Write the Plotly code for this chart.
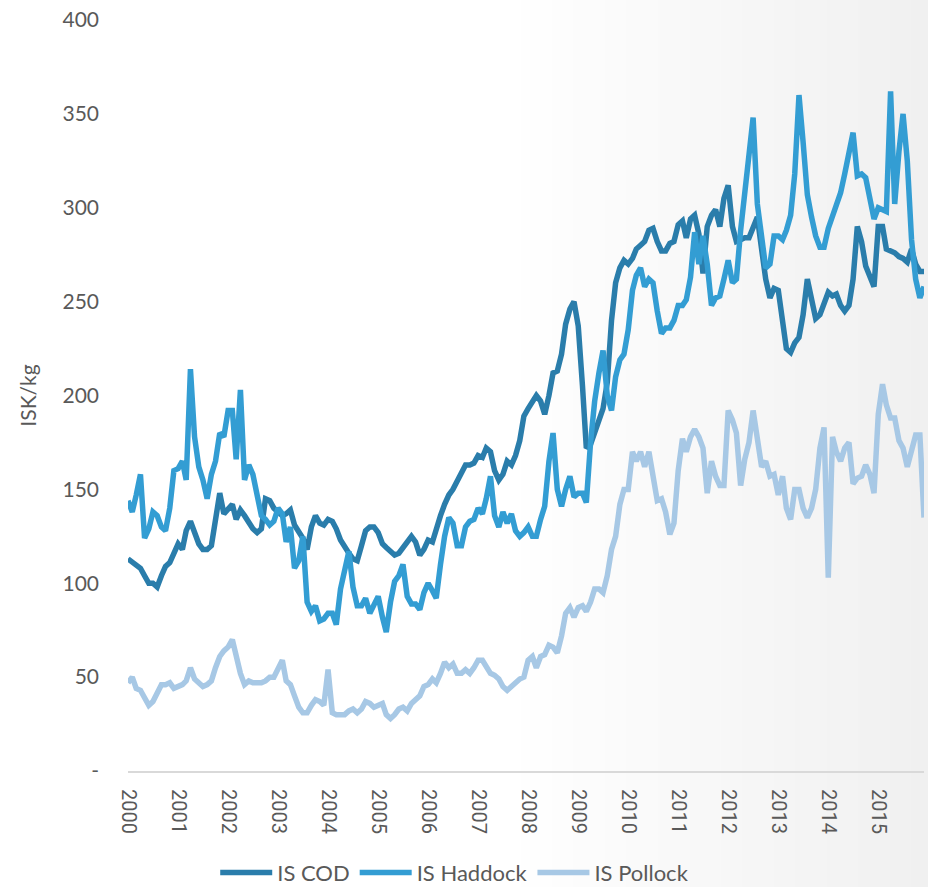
import pandas as pd
import plotly.graph_objects as go

# monthly prices, Jan 2000 - Dec 2015 (ISK/kg)
months = pd.date_range("2000-01-01", periods=192, freq="MS")

cod = [
    113, 111, 110, 108, 104, 100, 100, 98, 104, 109, 111, 116,
    121, 118, 128, 133, 126, 121, 118, 118, 120, 134, 148, 137,
    140, 142, 134, 139, 136, 132, 129, 127, 129, 145, 144, 140,
    138, 136, 137, 139, 131, 127, 124, 118, 130, 136, 132, 131,
    134, 133, 129, 123, 119, 116, 113, 112, 120, 128, 130, 130,
    127, 121, 119, 117, 115, 116, 119, 121, 125, 122, 115, 118,
    123, 122, 130, 136, 142, 147, 150, 154, 158, 163, 163, 164,
    168, 167, 172, 170, 160, 155, 158, 165, 163, 168, 176, 189,
    193, 197, 200, 197, 190, 200, 212, 213, 222, 238, 246, 250,
    237, 205, 172, 174, 180, 186, 193, 207, 240, 260, 268, 272,
    270, 273, 278, 280, 282, 288, 289, 282, 277, 277, 281, 282,
    291, 293, 284, 294, 296, 286, 265, 290, 296, 299, 290, 305,
    312, 290, 282, 283, 284, 284, 290, 295, 278, 262, 252, 257,
    256, 240, 225, 223, 228, 231, 243, 262, 250, 241, 243, 250,
    255, 253, 254, 248, 245, 248, 262, 290, 282, 269, 264, 258,
    290, 290, 278, 277, 276, 274, 273, 271, 278, 270, 266, 266,
]

haddock = [
    144, 138, 147, 158, 124, 129, 138, 136, 130, 128, 140, 160,
    161, 165, 155, 214, 178, 162, 155, 145, 158, 165, 180, 178,
    192, 192, 166, 203, 155, 163, 158, 148, 136, 134, 131, 133,
    140, 137, 122, 130, 108, 112, 125, 90, 85, 88, 80, 81,
    84, 84, 78, 97, 108, 117, 98, 88, 88, 92, 84, 88,
    93, 82, 74, 90, 101, 104, 110, 93, 89, 89, 86, 95,
    100, 96, 92, 110, 125, 135, 132, 120, 120, 130, 133, 134,
    140, 137, 145, 157, 136, 130, 138, 132, 137, 128, 125, 127,
    130, 125, 125, 134, 141, 165, 180, 150, 141, 150, 157, 146,
    148, 148, 143, 175, 197, 212, 224, 200, 192, 210, 219, 222,
    235, 256, 264, 268, 258, 262, 260, 245, 233, 236, 236, 240,
    248, 248, 251, 263, 287, 270, 285, 270, 248, 252, 253, 262,
    272, 260, 262, 288, 306, 325, 348, 302, 284, 268, 270, 285,
    285, 283, 288, 296, 318, 360, 335, 307, 295, 285, 279, 279,
    289, 295, 302, 308, 318, 330, 340, 317, 318, 316, 304, 294,
    300, 299, 298, 362, 302, 330, 350, 325, 283, 262, 252, 258,
]

pollock = [
    47, 50, 44, 43, 39, 35, 37, 41, 46, 46, 47, 44,
    45, 46, 48, 55, 49, 47, 45, 46, 48, 55, 61, 64,
    66, 70, 60, 52, 46, 48, 47, 47, 47, 48, 50, 50,
    55, 59, 48, 46, 40, 34, 31, 31, 35, 38, 37, 35,
    54, 31, 30, 30, 30, 32, 33, 31, 33, 37, 36, 34,
    35, 36, 30, 28, 30, 33, 34, 32, 36, 38, 40, 45,
    46, 49, 47, 52, 58, 55, 57, 52, 52, 54, 52, 55,
    59, 59, 56, 52, 51, 49, 45, 43, 45, 47, 49, 50,
    59, 61, 55, 61, 62, 67, 66, 63, 72, 84, 87, 82,
    87, 88, 85, 90, 97, 97, 95, 104, 118, 125, 142, 150,
    150, 170, 165, 170, 162, 170, 158, 144, 145, 138, 126, 132,
    160, 177, 170, 178, 182, 178, 172, 148, 165, 157, 152, 152,
    192, 187, 180, 152, 166, 175, 192, 178, 162, 165, 157, 158,
    147, 157, 140, 134, 150, 150, 140, 135, 140, 150, 172, 183,
    103, 178, 170, 165, 172, 175, 153, 156, 157, 163, 158, 148,
    190, 206, 195, 188, 188, 176, 172, 162, 172, 179, 179, 135,
]

series = [("IS COD", cod, "#2A7DAB"),
          ("IS Haddock", haddock, "#339DD3"),
          ("IS Pollock", pollock, "#A7C8E5")]

y_ticks = [0, 50, 100, 150, 200, 250, 300, 350, 400]
y_labels = ["-", "50", "100", "150", "200", "250", "300", "350", "400"]

fig = go.Figure()
for name, vals, col in series:
    fig.add_trace(go.Scatter(x=months, y=vals, name=name, mode="lines",
                             line=dict(color=col, width=5.5)))

# soft grey fade towards the right edge
n = 40
for k in range(n):
    x0 = 0.48 + k * (0.53 / n)
    g = int(round(255 - 15 * (k + 1) / n))
    fig.add_shape(type="rect", xref="paper", yref="paper",
                  x0=x0, x1=x0 + 0.53 / n + 0.002, y0=-0.16, y1=1.03,
                  fillcolor=f"rgb({g},{g},{g})", line_width=0, layer="below")

fig.update_layout(
    width=928, height=887,
    margin=dict(l=128, r=4, t=20, b=116),
    plot_bgcolor="rgba(0,0,0,0)",
    paper_bgcolor="white",
    font=dict(family="Lato", color="#595959"),
    showlegend=True,
    legend=dict(orientation="h", xref="container", yref="container",
                x=0.49, xanchor="center", y=0.016, yanchor="middle",
                font=dict(size=22, family="Lato"),
                bgcolor="rgba(0,0,0,0)", itemwidth=52),
    xaxis=dict(range=[months[0], months[-1]], tickformat="%Y", dtick="M12",
               tick0="2000-01-01", tickangle=90, showgrid=False,
               showline=True, linecolor="#D9D9D9", linewidth=2,
               ticks="", ticklabelstandoff=12,
               tickfont=dict(family="Roboto", size=20, color="#595959")),
    yaxis=dict(range=[0, 400], tickvals=y_ticks, ticktext=y_labels,
               showgrid=False, zeroline=False, showline=False, ticks="",
               ticklabelstandoff=28,
               tickfont=dict(size=21, color="#595959"),
               title=dict(text="ISK/kg", font=dict(size=21, color="#595959"),
                          standoff=20)),
)

fig.write_html("out.html", config={"displayModeBar": False},
               post_script="document.body.style.margin='0';"
                           "document.body.style.padding='0';")
